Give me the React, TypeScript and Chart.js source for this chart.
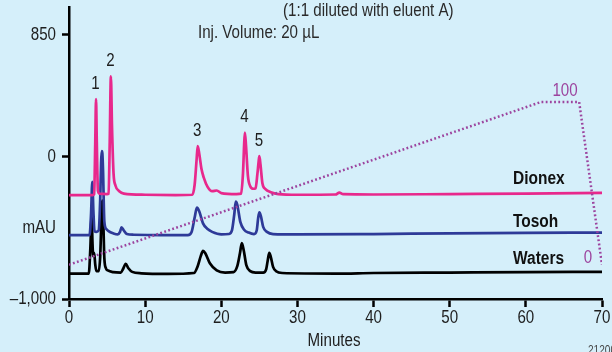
import React, { useEffect, useRef } from "react";
import { Chart, registerables } from "chart.js";

Chart.register(...registerables);

// ---- Data ----
const dionexTime = [0, 3.1, 3.3, 3.45, 3.55, 3.65, 3.8, 4.0, 5.0, 5.2, 5.35, 5.5, 5.65, 5.85, 6.1, 6.6, 7.2, 10, 14, 16.2, 16.5, 16.75, 16.9, 17.1, 17.4, 17.7, 18.2, 18.8, 19.4, 20, 22, 22.6, 22.85, 23.0, 23.1, 23.25, 23.5, 23.8, 24.2, 24.5, 24.75, 24.9, 25.0, 25.15, 25.4, 25.8, 26.5, 27.5, 30, 35, 35.5, 36, 40, 50, 60, 70];
const dionexMAU = [-272, -272, -265, 100, 400, 100, -240, -262, -265, -262, 100, 560, 200, -120, -205, -245, -262, -270, -272, -270, -200, -30, 70, 20, -90, -150, -215, -245, -240, -258, -265, -262, -120, 80, 166, 70, -140, -210, -228, -225, -120, -40, 0, -60, -190, -230, -252, -265, -270, -268, -255, -266, -268, -265, -262, -257];

const tosohTime = [0, 2.7, 2.9, 3.06, 3.2, 3.35, 3.6, 3.9, 4.1, 4.22, 4.3, 4.38, 4.47, 4.64, 4.9, 5.2, 5.8, 6.4, 6.7, 6.9, 7.2, 7.6, 8.5, 12, 15.6, 16.1, 16.5, 16.8, 17.1, 17.6, 18.2, 18.8, 20, 21.0, 21.4, 21.7, 21.9, 22.1, 22.5, 23.0, 23.6, 24.3, 24.65, 24.85, 25.0, 25.2, 25.5, 26.0, 26.8, 30, 40, 50, 60, 70];
const tosohMAU = [-553, -553, -400, -180, -380, -525, -530, -520, -300, -40, 35, 20, -100, -456, -510, -525, -540, -548, -530, -498, -520, -545, -550, -553, -552, -530, -430, -360, -385, -470, -510, -530, -548, -545, -520, -410, -318, -340, -460, -515, -535, -545, -520, -430, -394, -420, -495, -530, -545, -548, -545, -540, -537, -535];

const watersTime = [0, 2.6, 2.8, 2.98, 3.08, 3.18, 3.3, 3.45, 3.6, 3.9, 4.1, 4.25, 4.38, 4.5, 4.64, 4.85, 5.1, 5.8, 6.8, 7.1, 7.45, 7.8, 8.3, 9.5, 13, 16.4, 16.9, 17.3, 17.6, 17.9, 18.5, 19.4, 20.5, 21.6, 22.1, 22.45, 22.7, 22.95, 23.3, 23.8, 24.5, 25.5, 25.9, 26.1, 26.3, 26.5, 26.8, 27.2, 28, 35, 40, 50, 60, 70];
const watersMAU = [-822, -822, -650, -422, -600, -700, -677, -760, -805, -805, -700, -450, -311, -450, -712, -785, -800, -812, -815, -790, -753, -785, -810, -820, -824, -818, -770, -700, -663, -680, -750, -800, -815, -812, -770, -680, -608, -660, -765, -805, -815, -815, -790, -730, -677, -705, -775, -805, -818, -822, -818, -815, -812, -810];

// gradient profile (%B 0 -> 100), drawn in the mAU frame
const gradientTime = [0, 62, 67, 70];
const gradientLevel = [-760, 380, 380, -760];

const peakNames = ["1", "2", "3", "4", "5"];
const peakTimes = [3.55, 5.5, 16.9, 23.1, 25.0];
const peakTops = [400, 560, 70, 166, 0];

const seriesNames = ["Dionex", "Tosoh", "Waters"];
const xTickValues = [0, 10, 20, 30, 40, 50, 60, 70];
const yTickValues = [-1000, -500, 0, 850];
const yTickLabels = ["\u20131,000", "mAU", "0", "850"];

const FONT = "'Liberation Sans', Arial, sans-serif";
const CONDENSE = 0.84;
const BG = "#D5EFFA";
const INK = "#1e1e1e";
const PURPLE = "#9C449E";

const toPoints = (t: number[], v: number[]) => t.map((x, i) => ({ x, y: v[i] }));

function drawText(
  ctx: CanvasRenderingContext2D,
  text: string,
  x: number,
  y: number,
  align: CanvasTextAlign,
  font: string,
  color: string,
  sx: number = CONDENSE
) {
  ctx.save();
  ctx.translate(x, y);
  ctx.scale(sx, 1);
  ctx.font = font;
  ctx.fillStyle = color;
  ctx.textAlign = align;
  ctx.textBaseline = "middle";
  ctx.fillText(text, 0, 0);
  ctx.restore();
}

const annotations = {
  id: "annotations",
  afterDraw(chart: any) {
    const { ctx, scales } = chart;
    const xs = scales.x;
    const ys = scales.y;
    const reg = `18px ${FONT}`;
    // axis tick labels
    xTickValues.forEach((v) => drawText(ctx, String(v), xs.getPixelForValue(v), 318, "center", reg, INK));
    yTickValues.forEach((v, i) => drawText(ctx, yTickLabels[i], 56, ys.getPixelForValue(v) + 0.5, "right", reg, INK));
    // peak numbers
    peakNames.forEach((n, i) =>
      drawText(ctx, n, xs.getPixelForValue(peakTimes[i]) - 0.5, ys.getPixelForValue(peakTops[i]) - 15, "center", reg, INK)
    );
    // header notes
    drawText(ctx, "(1:1 diluted with eluent A)", 283, 11, "left", reg, "#2a2a2a");
    drawText(ctx, "Inj. Volume: 20 \u00B5L", 198, 33, "left", reg, "#2a2a2a");
    // series names
    const nameY = [179, 222, 259];
    seriesNames.forEach((n, i) => drawText(ctx, n, 513, nameY[i], "left", `bold 18px ${FONT}`, "#111", 0.86));
    // gradient labels
    drawText(ctx, "100", 565, 91, "center", reg, PURPLE);
    drawText(ctx, "0", 588, 258, "center", reg, PURPLE);
    // axis title
    drawText(ctx, "Minutes", 334, 341, "center", reg, INK);
    // figure number (clipped at bottom)
    drawText(ctx, "21200", 588, 351, "left", `12px ${FONT}`, "#444");
  },
};

export default function App() {
  const ref = useRef<HTMLCanvasElement | null>(null);
  useEffect(() => {
    if (!ref.current) return;
    const lineBase = {
      pointRadius: 0,
      borderWidth: 2.7,
      fill: false,
      cubicInterpolationMode: "monotone" as const,
    };
    const chart = new Chart(ref.current, {
      type: "line",
      data: {
        datasets: [
          {
            label: "Gradient",
            data: toPoints(gradientTime, gradientLevel),
            borderColor: PURPLE,
            borderWidth: 2.5,
            borderDash: [1.8, 2.4],
            pointRadius: 0,
            fill: false,
            tension: 0,
          },
          { ...lineBase, label: "Dionex", data: toPoints(dionexTime, dionexMAU), borderColor: "#E8288C" },
          { ...lineBase, label: "Tosoh", data: toPoints(tosohTime, tosohMAU), borderColor: "#2E3A98" },
          { ...lineBase, label: "Waters", data: toPoints(watersTime, watersMAU), borderColor: "#000000" },
        ],
      },
      options: {
        responsive: false,
        animation: false,
        events: [],
        layout: { padding: { left: 0, top: 7, right: 10, bottom: 0 } },
        plugins: { legend: { display: false }, tooltip: { enabled: false } },
        scales: {
          x: {
            type: "linear",
            min: 0,
            max: 70,
            afterBuildTicks: (s: any) => {
              s.ticks = xTickValues.map((value) => ({ value }));
            },
            afterFit: (s: any) => {
              s.height = 53;
            },
            border: { color: "#000", width: 2.5 },
            grid: { drawOnChartArea: false, drawTicks: true, tickLength: 8, tickColor: "#000", tickWidth: 2.5 },
            ticks: { display: false },
          },
          y: {
            type: "linear",
            min: -1000,
            max: 1045,
            afterBuildTicks: (s: any) => {
              s.ticks = yTickValues.map((value) => ({ value }));
            },
            afterFit: (s: any) => {
              s.width = 69;
            },
            border: { color: "#000", width: 2.5 },
            grid: {
              drawOnChartArea: false,
              drawTicks: true,
              tickLength: 7,
              tickWidth: 2.5,
              tickColor: (c: any) => (c.tick && c.tick.value === -500 ? "rgba(0,0,0,0)" : "#000"),
            },
            ticks: { display: false },
          },
        },
      },
      plugins: [annotations],
    });
    return () => chart.destroy();
  }, []);
  return (
    <div style={{ position: "absolute", left: 0, top: 0, width: 612, height: 352, background: BG, overflow: "hidden" }}>
      <canvas ref={ref} width={612} height={352} style={{ display: "block", width: 612, height: 352 }} />
    </div>
  );
}
